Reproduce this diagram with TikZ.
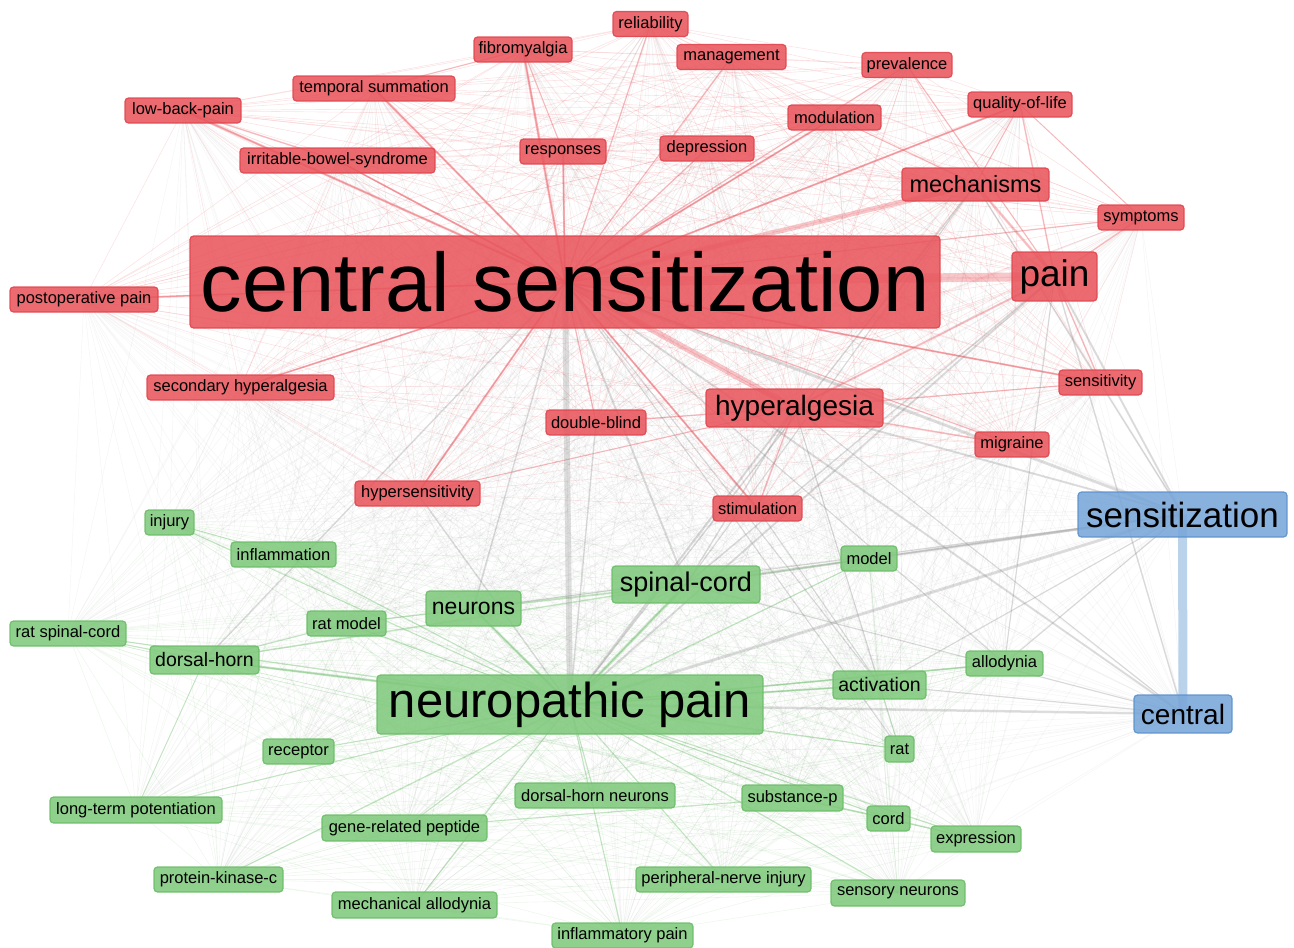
\documentclass[tikz,border=0pt]{standalone}
\usepackage{fontspec}
\setmainfont{Liberation Sans}
\usetikzlibrary{backgrounds}
\definecolor{rfill}{HTML}{E8565D}
\definecolor{rline}{HTML}{E0454D}
\definecolor{gfill}{HTML}{80C97D}
\definecolor{gline}{HTML}{69BD66}
\definecolor{bfill}{HTML}{78A6D8}
\definecolor{bline}{HTML}{5A91CC}
\definecolor{redge}{HTML}{E8505A}
\definecolor{gedge}{HTML}{5DB55A}
\definecolor{xedge}{HTML}{8A8A8A}
\newcommand\fsz[1]{\fontsize{#1}{#1}\selectfont}
\tikzset{
  kw/.style={rounded corners=3.5pt, inner sep=0pt, align=center, text=black,
    fill opacity=0.88, text opacity=1, line width=1.2pt, draw opacity=0.9},
  rn/.style={kw, fill=rfill, draw=rline},
  gn/.style={kw, fill=gfill, draw=gline},
  bn/.style={kw, fill=bfill, draw=bline},
  small/.style={font=\fsz{16.5}, minimum height=25pt},
  rmesh/.style={draw=redge, opacity=0.16, line width=0.6pt},
  gmesh/.style={draw=gedge, opacity=0.11, line width=0.6pt},
  xmesh/.style={draw=xedge, opacity=0.08, line width=0.6pt},
  rstrong/.style={draw=redge, opacity=0.32},
  gstrong/.style={draw=gedge, opacity=0.30},
  xstrong/.style={draw=xedge, opacity=0.28},
}
\begin{document}
\begin{tikzpicture}[x=1pt,y=-1pt]
\useasboundingbox (0,0) rectangle (1294,948);
% ---------- red cluster ----------
\node[rn,small,minimum width=75pt] (rel) at (650.5,24) {reliability};
\node[rn,small,minimum width=98pt] (fib) at (523,49.5) {fibromyalgia};
\node[rn,small,minimum width=109pt] (man) at (731.5,57) {management};
\node[rn,small,minimum width=90pt] (prev) at (907,65) {prevalence};
\node[rn,small,minimum width=162pt] (tem) at (374,88.5) {temporal summation};
\node[rn,small,minimum width=116pt] (lbp) at (183,110.5) {low-back-pain};
\node[rn,small,minimum width=104pt] (qol) at (1020,104.5) {quality-of-life};
\node[rn,small,minimum width=93pt] (mod) at (834.5,117.5) {modulation};
\node[rn,small,minimum width=195pt] (ibs) at (337.5,160.5) {irritable-bowel-syndrome};
\node[rn,small,minimum width=86pt] (resp) at (563,151.5) {responses};
\node[rn,small,minimum width=94pt] (dep) at (707,148.5) {depression};
\node[rn,font=\fsz{23.5},minimum width=147pt,minimum height=33pt] (mech) at (975.5,184.5) {mechanisms};
\node[rn,small,minimum width=86pt] (sym) at (1141,217.5) {symptoms};
\node[rn,font=\fsz{83},minimum width=750pt,minimum height=92pt] (cs) at (565,282) {central sensitization};
\node[rn,font=\fsz{37},minimum width=85pt,minimum height=49pt] (pain) at (1054.5,276.5) {pain};
\node[rn,small,minimum width=148pt] (post) at (84,299.5) {postoperative pain};
\node[rn,small,minimum width=187pt] (sec) at (240.5,387.5) {secondary hyperalgesia};
\node[rn,small,minimum width=83pt] (sens) at (1100.5,382.5) {sensitivity};
\node[rn,font=\fsz{28},minimum width=177pt,minimum height=38pt] (hyp) at (794.5,408) {hyperalgesia};
\node[rn,small,minimum width=100pt] (dbl) at (596,422.5) {double-blind};
\node[rn,small,minimum width=74pt] (mig) at (1012,444.5) {migraine};
\node[rn,small,minimum width=125pt] (hsens) at (417.5,493.5) {hypersensitivity};
\node[rn,small,minimum width=89pt] (stim) at (757.5,508.5) {stimulation};
% ---------- blue cluster ----------
\node[bn,font=\fsz{35},minimum width=209pt,minimum height=45pt] (sz) at (1182.5,514.5) {sensitization};
\node[bn,font=\fsz{28},minimum width=98pt,minimum height=38pt] (cen) at (1183,714) {central};
% ---------- green cluster ----------
\node[gn,small,minimum width=49pt] (inj) at (169.5,522.5) {injury};
\node[gn,small,minimum width=105pt] (infl) at (283.5,554.5) {inflammation};
\node[gn,small,minimum width=56pt] (model) at (869,558.5) {model};
\node[gn,font=\fsz{27},minimum width=148pt,minimum height=37pt] (sc) at (686,584.5) {spinal-cord};
\node[gn,font=\fsz{23},minimum width=95pt,minimum height=35pt] (neu) at (473.5,608.5) {neurons};
\node[gn,small,minimum width=79pt] (ratm) at (346.5,623.5) {rat model};
\node[gn,small,minimum width=116pt] (rsc) at (68,633.5) {rat spinal-cord};
\node[gn,font=\fsz{19.5},minimum width=109pt,minimum height=28pt] (dh) at (204.5,660) {dorsal-horn};
\node[gn,small,minimum width=77pt] (allo) at (1004.5,663.5) {allodynia};
\node[gn,font=\fsz{19.5},minimum width=93pt,minimum height=28pt] (act) at (879.5,685) {activation};
\node[gn,font=\fsz{49},minimum width=386pt,minimum height=59pt] (np) at (570,704.5) {neuropathic pain};
\node[gn,small,minimum width=71pt] (rec) at (298.5,751.5) {receptor};
\node[gn,small,minimum width=29pt,minimum height=26pt] (rat) at (899.5,749) {rat};
\node[gn,small,minimum width=172pt,minimum height=26pt] (ltp) at (136,810) {long-term potentiation};
\node[gn,small,minimum width=160pt] (dhn) at (595,795.5) {dorsal-horn neurons};
\node[gn,small,minimum width=101pt,minimum height=26pt] (subp) at (792.5,798) {substance-p};
\node[gn,small,minimum width=43pt] (cord) at (888.5,818.5) {cord};
\node[gn,small,minimum width=165pt,minimum height=26pt] (grp) at (404.5,828) {gene-related peptide};
\node[gn,small,minimum width=90pt,minimum height=26pt] (expr) at (976,839) {expression};
\node[gn,small,minimum width=129pt] (pkc) at (218.5,879.5) {protein-kinase-c};
\node[gn,small,minimum width=175pt] (pni) at (723.5,879.5) {peripheral-nerve injury};
\node[gn,small,minimum width=134pt,minimum height=26pt] (sn) at (898,893) {sensory neurons};
\node[gn,small,minimum width=165pt,minimum height=26pt] (mall) at (414.5,905) {mechanical allodynia};
\node[gn,small,minimum width=141pt] (ipain) at (622.5,935.5) {inflammatory pain};
% ---------- connectors ----------
\def\Rlist{rel,fib,man,prev,tem,lbp,qol,mod,ibs,resp,dep,mech,sym,cs,pain,post,sec,sens,hyp,dbl,mig,hsens,stim}
\def\Glist{inj,infl,model,sc,neu,ratm,rsc,dh,allo,act,np,rec,rat,ltp,dhn,subp,cord,grp,expr,pkc,pni,sn,mall,ipain}
\begin{scope}[on background layer]
  \foreach \a [count=\i] in \Rlist {
    \foreach \b [count=\j] in \Rlist {
      \ifnum\j>\i \draw[rmesh] (\a.center) -- (\b.center); \fi
    }
  }
  \foreach \a [count=\i] in \Glist {
    \foreach \b [count=\j] in \Glist {
      \ifnum\j>\i \draw[gmesh] (\a.center) -- (\b.center); \fi
    }
  }
  \foreach \a in \Rlist {
    \foreach \b in \Glist {
      \draw[xmesh] (\a.center) -- (\b.center);
    }
  }
  \foreach \a in \Rlist {\draw[xmesh] (\a.center) -- (sz.center); \draw[xmesh] (\a.center) -- (cen.center);}
  \foreach \a in \Glist {\draw[xmesh] (\a.center) -- (sz.center); \draw[xmesh] (\a.center) -- (cen.center);}
  % hub connectors
  \foreach \a in {rel,fib,man,prev,tem,lbp,qol,mod,ibs,resp,dep,sym,post,sec,sens,dbl,mig,hsens,stim}
    {\draw[rstrong, line width=1.3pt] (cs.center) -- (\a.center);}
  \foreach \a/\w in {pain/9,hyp/6,mech/5,fib/2.5,lbp/2.5,tem/2.2,qol/2,resp/2,mod/2,sens/2,hsens/2,stim/2,sec/1.8,ibs/1.8,post/1.8}
    {\draw[rstrong, line width=\w pt] (cs.center) -- (\a.center);}
  \foreach \a/\b/\w in {pain/hyp/2,pain/mech/2.5,pain/sym/1.5,pain/sens/1.5,pain/qol/1.5,pain/prev/1.2,hyp/stim/1.5,hyp/mig/1.5,hyp/dbl/1.2,hyp/sens/1.2,mech/mod/1.2,mech/qol/1.2,lbp/ibs/1.5,fib/resp/1.2,tem/fib/1.2,hyp/hsens/1.2,qol/sym/1}
    {\draw[rstrong, line width=\w pt] (\a.center) -- (\b.center);}
  \foreach \a in {inj,infl,model,sc,neu,ratm,rsc,dh,allo,act,rec,rat,ltp,dhn,subp,cord,grp,expr,pkc,pni,sn,mall,ipain}
    {\draw[gstrong, line width=1.2pt] (np.center) -- (\a.center);}
  \foreach \a/\b/\w in {np/sc/3,np/dh/2.5,np/neu/2.5,np/act/2,np/allo/1.8,sc/neu/2,sc/dh/1.5,dh/rsc/1.2,dh/ratm/1.2,sc/model/1.2,act/rat/1.2,subp/cord/1.5,cord/expr/1.5,subp/grp/1.2,dh/ltp/1,neu/ratm/1.2,inj/infl/1}
    {\draw[gstrong, line width=\w pt] (\a.center) -- (\b.center);}
  \draw[xstrong, line width=6pt] (cs.center) -- (np.center);
  \foreach \a/\b/\w in {cs/sc/2,cs/neu/1.5,cs/dh/1.5,cs/act/1.2,hyp/np/2,hyp/sc/1.5,pain/np/2,pain/sc/1.5,mech/np/1.5,mech/sc/1.2,hsens/np/1.5,stim/act/1.2,dbl/np/1.5,cs/allo/1.2,cs/rat/1.2,hyp/act/1.2,pain/allo/1.2}
    {\draw[xstrong, line width=\w pt] (\a.center) -- (\b.center);}
  \foreach \a/\w in {cs/3,np/3,sc/2.5,pain/2,hyp/2,mech/1.5,model/1.5,act/1.2,allo/1.2,neu/1.2}
    {\draw[xstrong, line width=\w pt] (sz.center) -- (\a.center);}
  \foreach \a/\w in {cs/2,np/2.5,pain/1.5,hyp/1.2,sc/1.2,act/1.2}
    {\draw[xstrong, line width=\w pt] (cen.center) -- (\a.center);}
  \draw[draw=bfill, opacity=0.5, line width=9pt] (sz.center) -- (cen.center);
\end{scope}
\end{tikzpicture}
\end{document}
